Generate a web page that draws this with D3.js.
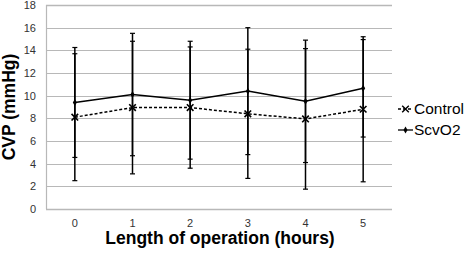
<!DOCTYPE html>
<html><head><meta charset="utf-8">
<script src="https://cdn.jsdelivr.net/npm/d3@7"></script>
<style>body{margin:0;background:#fff}svg{display:block}</style>
</head><body>
<svg id="c" width="469" height="253"></svg>
<script>
const categories = ["0","1","2","3","4","5"];
const controlMean = [8.1, 8.95, 8.95, 8.4, 7.95, 8.8];
const controlSD   = [5.6, 5.85, 5.35, 5.7, 6.2, 6.4];
const scvMean     = [9.4, 10.1, 9.6, 10.4, 9.5, 10.65];
const scvSD       = [4.85, 5.4, 5.2, 5.6, 5.4, 4.3];
const yTicks = [0,2,4,6,8,10,12,14,16,18];

const svg = d3.select("#c");
const m = {l:46, r:392, t:5, b:209};
const x = d3.scaleBand().domain(categories).range([m.l, m.r]);
const y = d3.scaleLinear().domain([0,18]).range([m.b, m.t]);
const cx = d => x(d) + x.bandwidth()/2;
const FF = "Liberation Sans, Arial, sans-serif";

// gridlines
svg.append("g").selectAll("line").data(yTicks).join("line")
  .attr("x1", m.l).attr("x2", m.r)
  .attr("y1", d => Math.round(y(d))+0.5).attr("y2", d => Math.round(y(d))+0.5)
  .attr("stroke", "#b8b8b8").attr("stroke-width", d => (d===0||d===18)?1.6:1.2);
svg.append("line").attr("x1", m.l+0.5).attr("x2", m.l+0.5).attr("y1", y(18)).attr("y2", y(0))
  .attr("stroke", "#b8b8b8").attr("stroke-width", 1.2);

// y tick labels
svg.append("g").selectAll("text").data(yTicks).join("text")
  .attr("x", 36).attr("y", d => y(d)).attr("dy", "0.35em").attr("text-anchor", "end")
  .attr("font-family", FF).attr("font-size", 11).attr("fill", "#333")
  .text(d => d);
// x tick labels
svg.append("g").selectAll("text").data(categories).join("text")
  .attr("x", d => cx(d)).attr("y", 223).attr("dy", "0.35em").attr("text-anchor", "middle")
  .attr("font-family", FF).attr("font-size", 11).attr("fill", "#333")
  .text(d => d);

// titles
svg.append("text").attr("transform", `translate(9,${(m.t+m.b)/2}) rotate(-90)`)
  .attr("text-anchor", "middle").attr("dy", "0.35em")
  .attr("font-family", FF).attr("font-size", 17.5).attr("font-weight", "bold")
  .text("CVP (mmHg)");
svg.append("text").attr("x", 220).attr("y", 244).attr("text-anchor", "middle")
  .attr("font-family", FF).attr("font-size", 17.5).attr("font-weight", "bold")
  .text("Length of operation (hours)");

// error bars
function errBars(mean, sd){
  const g = svg.append("g");
  categories.forEach((c,i)=>{
    const X = cx(c);
    g.append("line").attr("x1", X).attr("x2", X).attr("y1", y(mean[i]-sd[i])).attr("y2", y(mean[i]+sd[i]))
      .attr("stroke", "#000").attr("stroke-width", 1.5);
    [mean[i]-sd[i], mean[i]+sd[i]].forEach(v=>{
      g.append("line").attr("x1", X-2.5).attr("x2", X+2.5).attr("y1", y(v)).attr("y2", y(v))
        .attr("stroke", "#000").attr("stroke-width", 1.2);
    });
  });
}
errBars(controlMean, controlSD);
errBars(scvMean, scvSD);

const line = d3.line().x((d,i)=>cx(categories[i])).y(d=>y(d));
svg.append("path").datum(scvMean).attr("d", line).attr("fill","none").attr("stroke","#000").attr("stroke-width",1.5);
svg.append("path").datum(controlMean).attr("d", line).attr("fill","none").attr("stroke","#000").attr("stroke-width",1.5).attr("stroke-dasharray","3,2");

// markers
const starSym = d3.symbol().type(d3.symbolX).size(30);
const diaSym = d3.symbol().type(d3.symbolDiamond).size(14);
svg.append("g").selectAll("path").data(controlMean).join("path")
  .attr("transform", (d,i)=>`translate(${cx(categories[i])},${y(d)})`).attr("d", starSym())
  .attr("stroke","#000").attr("stroke-width",1.6).attr("fill","none");
svg.append("g").selectAll("path").data(scvMean).join("path")
  .attr("transform", (d,i)=>`translate(${cx(categories[i])},${y(d)})`).attr("d", diaSym())
  .attr("fill","#000");

// legend
const leg = [{name:"Control", dash:"3,2", sym:starSym, fill:"none"}, {name:"ScvO2", dash:null, sym:diaSym, fill:"#000"}];
leg.forEach((L,i)=>{
  const Y = 109 + i*21;
  svg.append("line").attr("x1",398).attr("x2",413).attr("y1",Y).attr("y2",Y).attr("stroke","#000").attr("stroke-width",1.3)
    .attr("stroke-dasharray", L.dash);
  svg.append("path").attr("transform",`translate(405.5,${Y})`).attr("d", L.sym())
    .attr("stroke", L.fill==="none"?"#000":null).attr("stroke-width",1.4).attr("fill", L.fill);
  svg.append("text").attr("x",414).attr("y",Y).attr("dy","0.35em")
    .attr("font-family",FF).attr("font-size",15.5).text(L.name);
});
</script>
</body></html>
